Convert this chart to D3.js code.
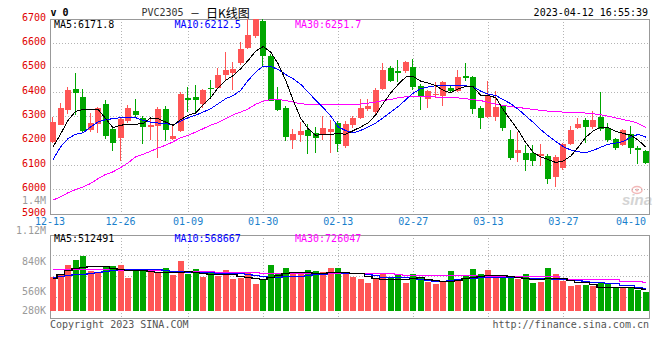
<!DOCTYPE html>
<html>
<head>
<meta charset="utf-8">
<script src="https://cdn.jsdelivr.net/npm/d3@7/dist/d3.min.js"></script>
<style>
body { margin: 0; background: #fff; }
text { font-family: "DejaVu Sans Mono", monospace; font-size: 10px; }
</style>
</head>
<body>
<script>
var width = 660,
    height = 360;

// trading days, PVC2305 daily
var dates = ["12-13","12-14","12-15","12-16","12-19","12-20","12-21","12-22","12-23","12-26",
    "12-27","12-28","12-29","12-30","01-03","01-04","01-05","01-06","01-09","01-10",
    "01-11","01-12","01-13","01-16","01-17","01-18","01-19","01-20","01-30","01-31",
    "02-01","02-02","02-03","02-06","02-07","02-08","02-09","02-10","02-13","02-14",
    "02-15","02-16","02-17","02-20","02-21","02-22","02-23","02-24","02-27","02-28",
    "03-01","03-02","03-03","03-06","03-07","03-08","03-09","03-10","03-13","03-14",
    "03-15","03-16","03-17","03-20","03-21","03-22","03-23","03-24","03-27","03-28",
    "03-29","03-30","03-31","04-03","04-04","04-06","04-07","04-10","04-11","04-12"];

var open = [6192,6266,6326,6412,6379,6244,6270,6351,6245,6210,6279,6319,6293,6252,6259,6327,6206,6239,6375,6380,
    6346,6416,6416,6470,6477,6514,6580,6626,6691,6548,6367,6334,6200,6221,6241,6230,6225,6233,6273,6176,
    6262,6292,6327,6316,6409,6498,6483,6484,6500,6425,6368,6383,6380,6416,6405,6464,6460,6333,6296,6296,
    6339,6207,6149,6150,6150,6136,6136,6050,6084,6184,6251,6282,6252,6296,6252,6204,6184,6225,6169,6157];
var high = [6297,6352,6418,6478,6411,6311,6338,6367,6250,6290,6346,6371,6298,6293,6337,6341,6262,6398,6421,6429,
    6410,6446,6498,6562,6521,6603,6700,6700,6700,6555,6419,6340,6248,6275,6269,6255,6299,6282,6278,6280,
    6300,6368,6368,6416,6517,6505,6528,6525,6535,6430,6405,6439,6445,6425,6487,6517,6465,6340,6442,6402,
    6345,6241,6234,6180,6180,6187,6145,6139,6190,6258,6293,6293,6320,6398,6271,6210,6248,6258,6175,6160];
var low = [6190,6262,6308,6304,6236,6233,6229,6204,6157,6116,6270,6290,6187,6200,6129,6198,6200,6235,6316,6312,
    6334,6374,6410,6443,6405,6510,6575,6620,6507,6360,6320,6198,6166,6195,6143,6149,6200,6149,6153,6170,
    6250,6288,6320,6305,6405,6440,6439,6476,6405,6323,6331,6375,6341,6395,6400,6445,6309,6248,6290,6279,
    6239,6120,6112,6075,6094,6096,6023,6009,6080,6180,6245,6189,6245,6240,6195,6159,6178,6143,6102,6105];
var close = [6274,6334,6407,6397,6240,6273,6334,6220,6187,6286,6334,6301,6255,6262,6327,6239,6218,6389,6367,6367,
    6405,6410,6470,6490,6494,6573,6634,6696,6548,6364,6327,6214,6225,6239,6217,6210,6252,6245,6187,6266,
    6292,6334,6339,6405,6487,6446,6473,6521,6416,6378,6402,6389,6439,6405,6462,6454,6327,6293,6382,6337,
    6248,6128,6162,6123,6116,6143,6041,6132,6184,6241,6266,6255,6282,6248,6204,6169,6244,6169,6162,6108];

var ma5 = [6173,6225,6282,6319,6327,6327,6327,6290,6252,6262,6266,6266,6269,6292,6289,6275,6262,6285,6303,6312,
    6346,6375,6416,6446,6466,6494,6528,6566,6585,6562,6514,6446,6364,6290,6248,6221,6225,6225,6228,6225,
    6240,6255,6272,6305,6352,6395,6430,6460,6462,6443,6435,6425,6405,6395,6412,6421,6419,6384,6384,6375,
    6325,6282,6240,6190,6150,6132,6121,6109,6116,6136,6173,6214,6239,6255,6252,6237,6228,6221,6200,6172];
var ma10 = [6121,6173,6207,6225,6231,6255,6275,6285,6289,6293,6296,6293,6282,6275,6271,6269,6262,6279,6293,6303,
    6316,6330,6350,6371,6384,6405,6446,6480,6505,6503,6491,6470,6453,6430,6398,6364,6334,6300,6255,6240,
    6230,6241,6255,6271,6293,6316,6339,6367,6394,6412,6419,6424,6425,6425,6425,6424,6419,6402,6389,6384,
    6367,6350,6327,6300,6273,6244,6218,6195,6174,6160,6153,6150,6159,6173,6184,6189,6196,6214,6225,6213];
var ma30 = [5955,5968,5985,5998,6009,6023,6043,6060,6071,6088,6108,6132,6143,6155,6169,6180,6194,6211,6221,6234,
    6248,6262,6273,6289,6305,6316,6329,6348,6361,6367,6367,6364,6357,6350,6348,6346,6346,6346,6346,6346,
    6346,6349,6353,6357,6363,6368,6375,6379,6380,6380,6380,6378,6375,6375,6374,6371,6367,6363,6356,6348,
    6344,6338,6335,6331,6327,6323,6320,6318,6316,6315,6314,6312,6309,6305,6299,6292,6285,6279,6269,6252];

// volume, thousand lots
var volume = [780,848,1052,1159,1257,916,870,993,1023,1052,757,948,948,916,857,977,818,1136,841,955,
    773,880,802,932,727,750,870,614,727,1045,870,977,870,857,932,916,880,977,977,893,
    773,727,643,743,841,780,841,643,841,780,659,620,689,909,705,818,955,841,932,780,
    780,780,727,841,636,659,977,841,682,568,591,591,568,643,614,523,552,552,477,432];
var volMa5 = [750,841,932,977,1011,1023,1023,1023,977,955,943,943,932,909,886,880,880,893,898,893,
    864,834,834,834,834,802,780,743,720,780,818,857,880,880,880,870,870,893,893,893,
    864,857,795,743,727,727,727,727,743,773,734,705,689,689,711,750,780,802,818,818,
    818,795,780,750,734,727,750,750,743,705,652,652,614,552,552,552,539,539,516,490];
var volMa10 = [780,795,811,830,848,864,880,909,932,948,948,948,948,948,948,932,916,902,893,893,
    893,880,870,864,857,857,848,825,795,780,780,802,802,802,818,834,848,880,880,864,
    857,857,834,811,780,780,780,766,750,727,705,689,689,705,727,750,757,780,780,780,
    780,780,780,757,757,750,743,734,720,715,705,690,652,652,640,630,591,591,552,516];
var volMa30 = [950,950,948,948,946,946,945,945,943,940,937,935,933,932,930,928,920,915,912,909,
    905,900,895,890,886,882,878,875,872,870,870,870,869,868,866,864,862,860,858,857,
    857,857,857,856,856,855,830,825,820,818,818,818,818,817,816,815,814,806,803,802,
    802,802,802,801,800,800,800,799,745,722,722,722,722,722,722,722,690,690,690,670];

var priceTicks = [5900,6000,6100,6200,6300,6400,6500,6600,6700];
var volTicks = [280,560,840,1120,1400];
var volTickLabels = ["280K","560K","840K","1.12M","1.4M"];
var dateTicks = ["12-13","12-26","01-09","01-30","02-13","02-27","03-13","03-27","04-10"];

var maNames = ["MA5","MA10","MA30"];
var priceMaLast = ["6171.8","6212.5","6251.7"];
var volMaLast = ["512491","568667","726047"];

var red = "#ff5555",
    green = "#00a600",
    maColors = ["#000000","#0000ff","#ff00ff"],
    gridColor = "#b4b4b4",
    frameColor = "#999";

var left = 50, right = 649,
    priceTop = 19, priceBottom = 213.5,
    volTop = 235, volBottom = 318;

var x = d3.scaleBand().domain(dates).range([left, right]).paddingInner(0.2).paddingOuter(0);
var y = d3.scaleLinear().domain([5900, 6700]).range([213.5, 18.5]);
var yVol = d3.scaleLinear().domain([0, 1727]).range([311, 235]);
var yVolLabel = d3.scaleLinear().domain([280, 1400]).range([321.3, 200.7]);

function cx(d) { return x(d) + x.bandwidth() / 2; }
function snap(v) { return Math.round(v) + 0.5; }

var rows = dates.map(function(d, i) {
    return { date: d, o: open[i], h: high[i], l: low[i], c: close[i], v: volume[i] };
});

var svg = d3.select("body").append("svg")
    .attr("width", width)
    .attr("height", height);

// watermark
var mark = svg.append("g");
mark.append("ellipse").attr("cx", 637).attr("cy", 190).attr("rx", 5).attr("ry", 3.5)
    .attr("fill", "none").attr("stroke", "#f2b8b8").attr("stroke-width", 1.5);
mark.append("circle").attr("cx", 637).attr("cy", 190).attr("r", 1.5).attr("fill", "#f2b8b8");
mark.append("text").attr("x", 622).attr("y", 205)
    .style("font-family", "Liberation Sans, Arial, sans-serif").style("font-size", "15px")
    .style("font-weight", "bold").style("font-style", "italic")
    .attr("fill", "#d4d4d4").text("sina");

// grid
var grid = svg.append("g")
    .attr("stroke", gridColor)
    .attr("stroke-dasharray", "1,2")
    .attr("shape-rendering", "crispEdges");

grid.selectAll(".hp")
    .data(priceTicks.slice(1, -1))
  .enter().append("line")
    .attr("x1", left).attr("x2", right)
    .attr("y1", function(d) { return snap(y(d)); })
    .attr("y2", function(d) { return snap(y(d)); });

grid.selectAll(".hv")
    .data(d3.range(1, 4))
  .enter().append("line")
    .attr("x1", left).attr("x2", right)
    .attr("y1", function(k) { return snap(volTop + k * (volBottom - volTop) / 4 - 0.5); })
    .attr("y2", function(k) { return snap(volTop + k * (volBottom - volTop) / 4 - 0.5); });

[[priceTop, priceBottom], [volTop, volBottom]].forEach(function(p) {
    grid.append("g").selectAll("line")
        .data(dateTicks.slice(1, -1))
      .enter().append("line")
        .attr("x1", function(d) { return snap(cx(d)); })
        .attr("x2", function(d) { return snap(cx(d)); })
        .attr("y1", p[0]).attr("y2", p[1]);
});

// frames
svg.append("g")
    .attr("fill", "none").attr("stroke", frameColor).attr("shape-rendering", "crispEdges")
    .selectAll("rect")
    .data([[priceTop, priceBottom], [volTop, volBottom]])
  .enter().append("rect")
    .attr("x", left + 0.5)
    .attr("y", function(d) { return d[0] + 0.5; })
    .attr("width", right - left)
    .attr("height", function(d) { return d[1] - d[0]; });

// candles
var candle = svg.append("g")
    .attr("shape-rendering", "crispEdges")
    .selectAll("g")
    .data(rows)
  .enter().append("g")
    .attr("fill", function(d) { return d.c >= d.o ? red : green; })
    .attr("stroke", function(d) { return d.c >= d.o ? red : green; });

candle.append("line")
    .attr("x1", function(d) { return Math.round(x(d.date)) + 2.5; })
    .attr("x2", function(d) { return Math.round(x(d.date)) + 2.5; })
    .attr("y1", function(d) { return y(d.h); })
    .attr("y2", function(d) { return y(d.l); });

candle.append("rect")
    .attr("stroke", "none")
    .attr("x", function(d) { return Math.round(x(d.date)); })
    .attr("width", 6)
    .attr("y", function(d) { return Math.round(y(Math.max(d.o, d.c))); })
    .attr("height", function(d) { return Math.max(1, Math.round(Math.abs(y(d.o) - y(d.c)))); });

// volume bars
svg.append("g")
    .attr("shape-rendering", "crispEdges")
    .selectAll("rect")
    .data(rows)
  .enter().append("rect")
    .attr("fill", function(d) { return d.c >= d.o ? red : green; })
    .attr("x", function(d) { return Math.round(x(d.date)); })
    .attr("width", 6)
    .attr("y", function(d) { return Math.round(yVol(d.v)); })
    .attr("height", function(d) { return yVol(0) - Math.round(yVol(d.v)); });

// moving averages
var priceLine = d3.line()
    .x(function(d, i) { return cx(dates[i]); })
    .y(function(d) { return y(d); });

var volLine = d3.line()
    .curve(d3.curveStep)
    .x(function(d, i) { return cx(dates[i]); })
    .y(function(d) { return snap(yVol(d)); });

[ma30, ma10, ma5].forEach(function(s, k) {
    svg.append("path")
        .datum(s)
        .attr("fill", "none")
        .attr("stroke", maColors[2 - k])
        .attr("shape-rendering", "crispEdges")
        .attr("d", priceLine);
});

[volMa30, volMa10, volMa5].forEach(function(s, k) {
    svg.append("path")
        .datum(s)
        .attr("fill", "none")
        .attr("stroke", maColors[2 - k])
        .attr("stroke-width", k == 0 ? 1 : 1.5)
        .attr("shape-rendering", "crispEdges")
        .attr("d", volLine);
});

// axis labels
svg.append("g").selectAll("text")
    .data(priceTicks)
  .enter().append("text")
    .attr("x", 46)
    .attr("y", function(d) { return y(d) - 1.5; })
    .attr("text-anchor", "end")
    .attr("dominant-baseline", "central")
    .attr("fill", "#e00000")
    .text(function(d) { return d; });

svg.append("g").selectAll("text")
    .data(volTicks)
  .enter().append("text")
    .attr("x", 46)
    .attr("y", function(d) { return Math.min(310.3, yVolLabel(d)); })
    .attr("text-anchor", "end")
    .attr("dominant-baseline", "central")
    .attr("fill", "#9a9a9a")
    .text(function(d, i) { return volTickLabels[i]; });

svg.append("g").selectAll("text")
    .data(dateTicks)
  .enter().append("text")
    .attr("x", function(d, i) { return i == 0 ? left : cx(d); })
    .attr("y", 221)
    .attr("text-anchor", "middle")
    .attr("dominant-baseline", "central")
    .attr("fill", "#1a7fcc")
    .text(function(d) { return d; });

// legends
[[24, priceMaLast], [238, volMaLast]].forEach(function(row) {
    svg.append("g").selectAll("text")
        .data(maNames)
      .enter().append("text")
        .attr("x", function(d, i) { return 54 + i * 120.5; })
        .attr("y", row[0])
        .attr("dominant-baseline", "central")
        .attr("fill", function(d, i) { return maColors[i]; })
        .text(function(d, i) { return d + ":" + row[1][i]; });
});

// header
svg.append("text")
    .attr("x", 50.5).attr("y", 12)
    .attr("dominant-baseline", "central")
    .style("font-weight", "bold")
    .text("v 0");

var title = svg.append("text")
    .attr("y", 12)
    .attr("dominant-baseline", "central");
title.append("tspan").attr("x", 141.5).attr("fill", "#333").text("PVC2305");
title.append("tspan").attr("x", 190).style("font-family", "Noto Sans CJK SC").text("－");
title.append("tspan").attr("x", 206)
    .style("font-family", "Noto Sans CJK SC").style("font-size", "12px")
    .text("日K线图");

svg.append("text")
    .attr("x", 648).attr("y", 12)
    .attr("text-anchor", "end")
    .attr("dominant-baseline", "central")
    .text("2023-04-12 16:55:39");

// footer
svg.append("text")
    .attr("x", 50).attr("y", 324)
    .attr("dominant-baseline", "central")
    .attr("fill", "#555")
    .text("Copyright 2023 SINA.COM");

svg.append("text")
    .attr("x", 649).attr("y", 324)
    .attr("text-anchor", "end")
    .attr("dominant-baseline", "central")
    .attr("fill", "#555")
    .text("http://finance.sina.com.cn");
</script>
</body>
</html>
